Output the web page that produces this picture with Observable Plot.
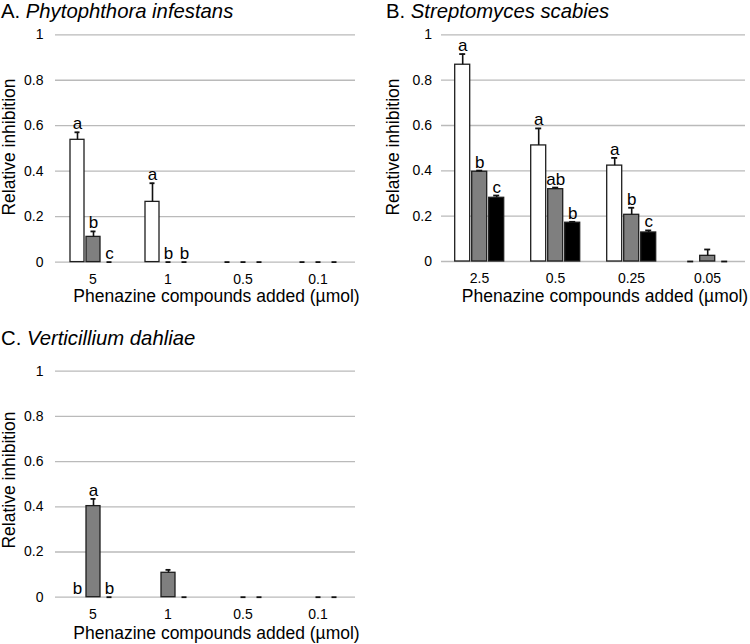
<!DOCTYPE html>
<html>
<head>
<meta charset="utf-8">
<script src="https://cdn.jsdelivr.net/npm/d3@7"></script>
<script src="https://cdn.jsdelivr.net/npm/@observablehq/plot@0.6"></script>
<style>
  html, body { margin: 0; padding: 0; background: #fff; }
  body { font-family: "Liberation Sans", Arial, Helvetica, sans-serif; color: #000; }
  #root { position: relative; width: 750px; height: 644px; overflow: hidden; background: #fff; }
  .panel { position: absolute; }
  .title { position: absolute; font-size: 20.3px; line-height: normal; white-space: nowrap; }
  .title i { font-style: italic; }
  .xlab { position: absolute; font-size: 17.5px; line-height: 1; white-space: nowrap; transform: translateX(-50%); }
  .ylab { position: absolute; font-size: 17.5px; line-height: 1; white-space: nowrap; transform: translate(-50%, -50%) rotate(-90deg); }
</style>
</head>
<body>
<div id="root"></div>
<script>
// ---------------- data ----------------
const yTicks = [0, 0.2, 0.4, 0.6, 0.8, 1];
const series = ["Compound 1", "Compound 2", "Compound 3"];
const xTitle = "Phenazine compounds added (\u00b5mol)";
const yTitle = "Relative inhibition";

// Panel A: Phytophthora infestans
const catsA = ["5", "1", "0.5", "0.1"];
const A1 = [0.538, 0.265, 0, 0];
const A2 = [0.111, 0, 0, 0];
const A3 = [0, 0, 0, 0];
const A1err = [0.033, 0.082, 0, 0];
const A2err = [0.024, 0, 0, 0];
const A3err = [0, 0, 0, 0];
const A1lab = ["a", "a", "", ""];
const A2lab = ["b", "b", "", ""];
const A3lab = ["c", "b", "", ""];

// Panel B: Streptomyces scabies
const catsB = ["2.5", "0.5", "0.25", "0.05"];
const B1 = [0.868, 0.512, 0.423, 0];
const B2 = [0.396, 0.319, 0.206, 0.025];
const B3 = [0.281, 0.171, 0.128, 0];
const B1err = [0.047, 0.075, 0.034, 0];
const B2err = [0.005, 0.007, 0.031, 0.028];
const B3err = [0.010, 0.004, 0.009, 0];
const B1lab = ["a", "a", "a", ""];
const B2lab = ["b", "ab", "b", ""];
const B3lab = ["c", "b", "c", ""];

// Panel C: Verticillium dahliae
const catsC = ["5", "1", "0.5", "0.1"];
const C1 = [0, 0, 0, 0];
const C2 = [0.403, 0.108, 0, 0];
const C3 = [0, 0, 0, 0];
const C1err = [null, null, null, null];
const C2err = [0.032, 0.013, 0, 0];
const C3err = [0, 0, 0, 0];
const C1lab = ["b", "", "", ""];
const C2lab = ["a", "", "", ""];
const C3lab = ["b", "", "", ""];

// ---------------- drawing ----------------
const root = document.getElementById("root");

function makeRows(cats, vals, errs, labs) {
  const rows = [];
  cats.forEach((c, i) => {
    series.forEach((s, j) => {
      rows.push({cat: c, series: s, value: vals[j][i], err: errs[j][i], letter: labs[j][i]});
    });
  });
  return rows;
}

function panel(cats, vals, errs, labs, geo) {
  const data = makeRows(cats, vals, errs, labs);
  const topOf = d => d.value + (d.err == null ? 0 : d.err);
  const bars = data.filter(d => d.value > 0);
  const withErr = data.filter(d => d.err != null);
  return Plot.plot({
    width: geo.width,
    height: geo.height,
    marginLeft: geo.marginLeft,
    marginRight: geo.marginRight,
    marginTop: geo.marginTop,
    marginBottom: geo.marginBottom,
    style: {
      fontFamily: '"Liberation Sans", Arial, Helvetica, sans-serif',
      fontSize: "14px",
      color: "#000",
      background: "transparent",
      overflow: "visible"
    },
    fx: {domain: cats, padding: 0, axis: "bottom", tickSize: 0, tickPadding: 12, label: null},
    x: {domain: series, axis: null, paddingInner: 0.14, paddingOuter: 0.8},
    y: {domain: [0, 1], ticks: yTicks, tickSize: 0, tickPadding: geo.yPad, label: null, tickFormat: d => String(d)},
    color: {domain: series, range: ["#ffffff", "#7f7f7f", "#000000"]},
    marks: [
      Plot.ruleY(yTicks, {stroke: "#bababa", strokeWidth: 1.3}),
      Plot.barY(bars, {fx: "cat", x: "series", y: "value", fill: "series", stroke: "#1e1e1e", strokeWidth: 1.3}),
      Plot.ruleX(withErr.filter(d => d.err > 0), {fx: "cat", x: "series", y1: "value", y2: topOf, stroke: "#111", strokeWidth: 1.6}),
      Plot.tickY(withErr, {fx: "cat", x: "series", y: topOf, insetLeft: 4.5, insetRight: 4.5, stroke: "#111", strokeWidth: 1.8}),
      Plot.text(data.filter(d => d.letter), {fx: "cat", x: "series", y: topOf, text: "letter", lineAnchor: "bottom", dy: -3, fontSize: 17, fill: "#000"})
    ]
  });
}

function place(el, left, top) {
  const wrap = document.createElement("div");
  wrap.className = "panel";
  wrap.style.left = left + "px";
  wrap.style.top = top + "px";
  wrap.appendChild(el);
  root.appendChild(wrap);
}

function addTitle(letter, name, left, top) {
  const d = document.createElement("div");
  d.className = "title";
  d.style.left = left + "px";
  d.style.top = top + "px";
  d.appendChild(document.createTextNode(letter + " "));
  const it = document.createElement("i");
  it.textContent = name;
  d.appendChild(it);
  root.appendChild(d);
}

function addXLab(cx, top) {
  const d = document.createElement("div");
  d.className = "xlab";
  d.style.left = cx + "px";
  d.style.top = top + "px";
  d.textContent = xTitle;
  root.appendChild(d);
}

function addYLab(cx, cy) {
  const d = document.createElement("div");
  d.className = "ylab";
  d.style.left = cx + "px";
  d.style.top = cy + "px";
  d.textContent = yTitle;
  root.appendChild(d);
}

// Panel A
place(panel(catsA, [A1, A2, A3], [A1err, A2err, A3err], [A1lab, A2lab, A3lab],
  {width: 375, height: 290, marginLeft: 55, marginRight: 19.5, marginTop: 34.3, marginBottom: 28.4, yPad: 12}), 0, 0);
addTitle("A.", "Phytophthora infestans", 1, 0);
addXLab(216.5, 288);
addYLab(9.5, 146.5);

// Panel B
place(panel(catsB, [B1, B2, B3], [B1err, B2err, B3err], [B1lab, B2lab, B3lab],
  {width: 375, height: 290, marginLeft: 64.3, marginRight: 3.6, marginTop: 34.3, marginBottom: 29, yPad: 9.5}), 375, 0);
addTitle("B.", "Streptomyces scabies", 386, 0);
addXLab(605, 288);
addYLab(394, 146.5);

// Panel C
place(panel(catsC, [C1, C2, C3], [C1err, C2err, C3err], [C1lab, C2lab, C3lab],
  {width: 375, height: 290, marginLeft: 55, marginRight: 19.5, marginTop: 34.7, marginBottom: 29.3, yPad: 12}), 0, 336);
addTitle("C.", "Verticillium dahliae", 1, 327);
addXLab(216.5, 624.5);
addYLab(9.5, 480);
</script>
</body>
</html>
